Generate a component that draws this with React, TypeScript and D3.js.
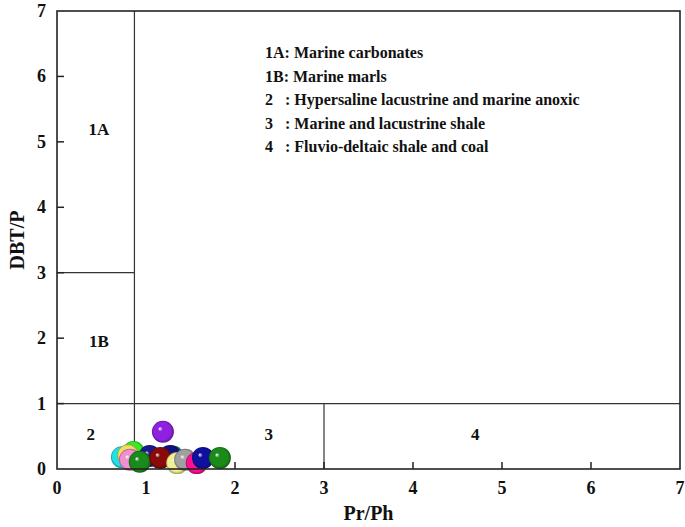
import React from "react";
import * as d3 from "d3";

const xTicks = [0, 1, 2, 3, 4, 5, 6, 7];
const yTicks = [0, 1, 2, 3, 4, 5, 6, 7];

const legendLines = [
  "1A: Marine carbonates",
  "1B: Marine marls",
  "2   : Hypersaline lacustrine and marine anoxic",
  "3   : Marine and lacustrine shale",
  "4   : Fluvio-deltaic shale and coal",
];

// region boundaries (data units)
const boundaryX1 = 0.87;
const boundaryY1A = 3;
const boundaryY2 = 1;
const boundaryX3 = 3;

const regionNames = ["1A", "1B", "2", "3", "4"];
const regionX = [0.47, 0.47, 0.38, 2.38, 4.7];
const regionY = [5.2, 1.95, 0.53, 0.53, 0.53];

// samples: Pr/Ph, DBT/P, colour (back to front)
const sampleX = [0.86, 1.04, 1.3, 0.73, 0.8, 0.82, 1.27, 0.93, 1.16, 1.35, 1.44, 1.57, 1.64, 1.83, 1.19];
const sampleY = [0.26, 0.2, 0.19, 0.18, 0.21, 0.14, 0.2, 0.11, 0.17, 0.09, 0.14, 0.09, 0.17, 0.17, 0.57];
const sampleColor = [
  "#33ee22", "#1a1a90", "#208080", "#22e0e8", "#f0e060", "#f090d0", "#101080",
  "#1a8a1a", "#8a0a0a", "#f0f090", "#a0a0a0", "#ff1090", "#1010a0", "#1a8a1a", "#9020e0",
];

const W = 685;
const H = 527;
const m = { left: 57, right: 5, top: 11, bottom: 58 };

export default function App() {
  const x = d3.scaleLinear().domain([0, 7]).range([m.left, W - m.right]);
  const y = d3.scaleLinear().domain([0, 7]).range([H - m.bottom, m.top]);
  const font = "'Liberation Serif', 'Times New Roman', serif";
  const line = "#333";
  return (
    <svg width={W} height={H} style={{ position: "absolute", left: 0, top: 0 }} fontFamily={font}>
      <defs>
        {sampleColor.map((c, i) => {
          const dark = d3.color(c)!.darker(1.2).formatHex();
          return (
            <radialGradient key={i} id={`g${i}`} cx="0.5" cy="0.5" r="0.5" fx="0.35" fy="0.35">
              <stop offset="0" stopColor="#ffffff" />
              <stop offset="0.22" stopColor={c} />
              <stop offset="0.8" stopColor={c} />
              <stop offset="1" stopColor={dark} />
            </radialGradient>
          );
        })}
      </defs>
      <rect x={0} y={0} width={W} height={H} fill="#fff" />
      <g stroke={line} strokeWidth={1.2}>
        <line x1={x(boundaryX1)} x2={x(boundaryX1)} y1={y(0)} y2={y(7)} />
        <line x1={x(0)} x2={x(boundaryX1)} y1={y(boundaryY1A)} y2={y(boundaryY1A)} />
        <line x1={x(0)} x2={x(7)} y1={y(boundaryY2)} y2={y(boundaryY2)} />
        <line x1={x(boundaryX3)} x2={x(boundaryX3)} y1={y(0)} y2={y(boundaryY2)} />
      </g>
      <g stroke="#222" strokeWidth={1.5}>
        {xTicks.slice(1, -1).map((t) => (
          <line key={t} x1={x(t)} x2={x(t)} y1={y(0)} y2={y(0) - 7} />
        ))}
        {yTicks.slice(1, -1).map((t) => (
          <line key={t} x1={x(0)} x2={x(0) + 7} y1={y(t)} y2={y(t)} />
        ))}
      </g>
      {sampleX.map((v, i) => (
        <circle key={i} cx={x(v)} cy={y(sampleY[i])} r={11} fill={`url(#g${i})`} />
      ))}
      <rect x={x(0)} y={y(7)} width={x(7) - x(0)} height={y(0) - y(7)} fill="none" stroke="#222" strokeWidth={1.6} />
      <g fontSize={18} fontWeight="bold" fill="#111">
        {xTicks.map((t) => (
          <text key={t} x={x(t)} y={y(0) + 25} textAnchor="middle">{t}</text>
        ))}
        {yTicks.map((t) => (
          <text key={t} x={x(0) - 11} y={y(t) + 6} textAnchor="end">{t}</text>
        ))}
      </g>
      <text x={(x(0) + x(7)) / 2} y={H - 7} textAnchor="middle" fontSize={20} fontWeight="bold" fill="#111">Pr/Ph</text>
      <text transform={`translate(24,${(y(0) + y(7)) / 2}) rotate(-90)`} textAnchor="middle" fontSize={20} fontWeight="bold" fill="#111">DBT/P</text>
      <g fontSize={17} fontWeight="bold" fill="#111">
        {regionNames.map((n, i) => (
          <text key={n} x={x(regionX[i])} y={y(regionY[i]) + 6} textAnchor="middle">{n}</text>
        ))}
      </g>
      <g fontSize={16} fontWeight="bold" fill="#111">
        {legendLines.map((s, i) => (
          <text key={i} x={265} y={58 + i * 23.5} style={{ whiteSpace: "pre" }} xmlSpace="preserve">{s}</text>
        ))}
      </g>
    </svg>
  );
}
